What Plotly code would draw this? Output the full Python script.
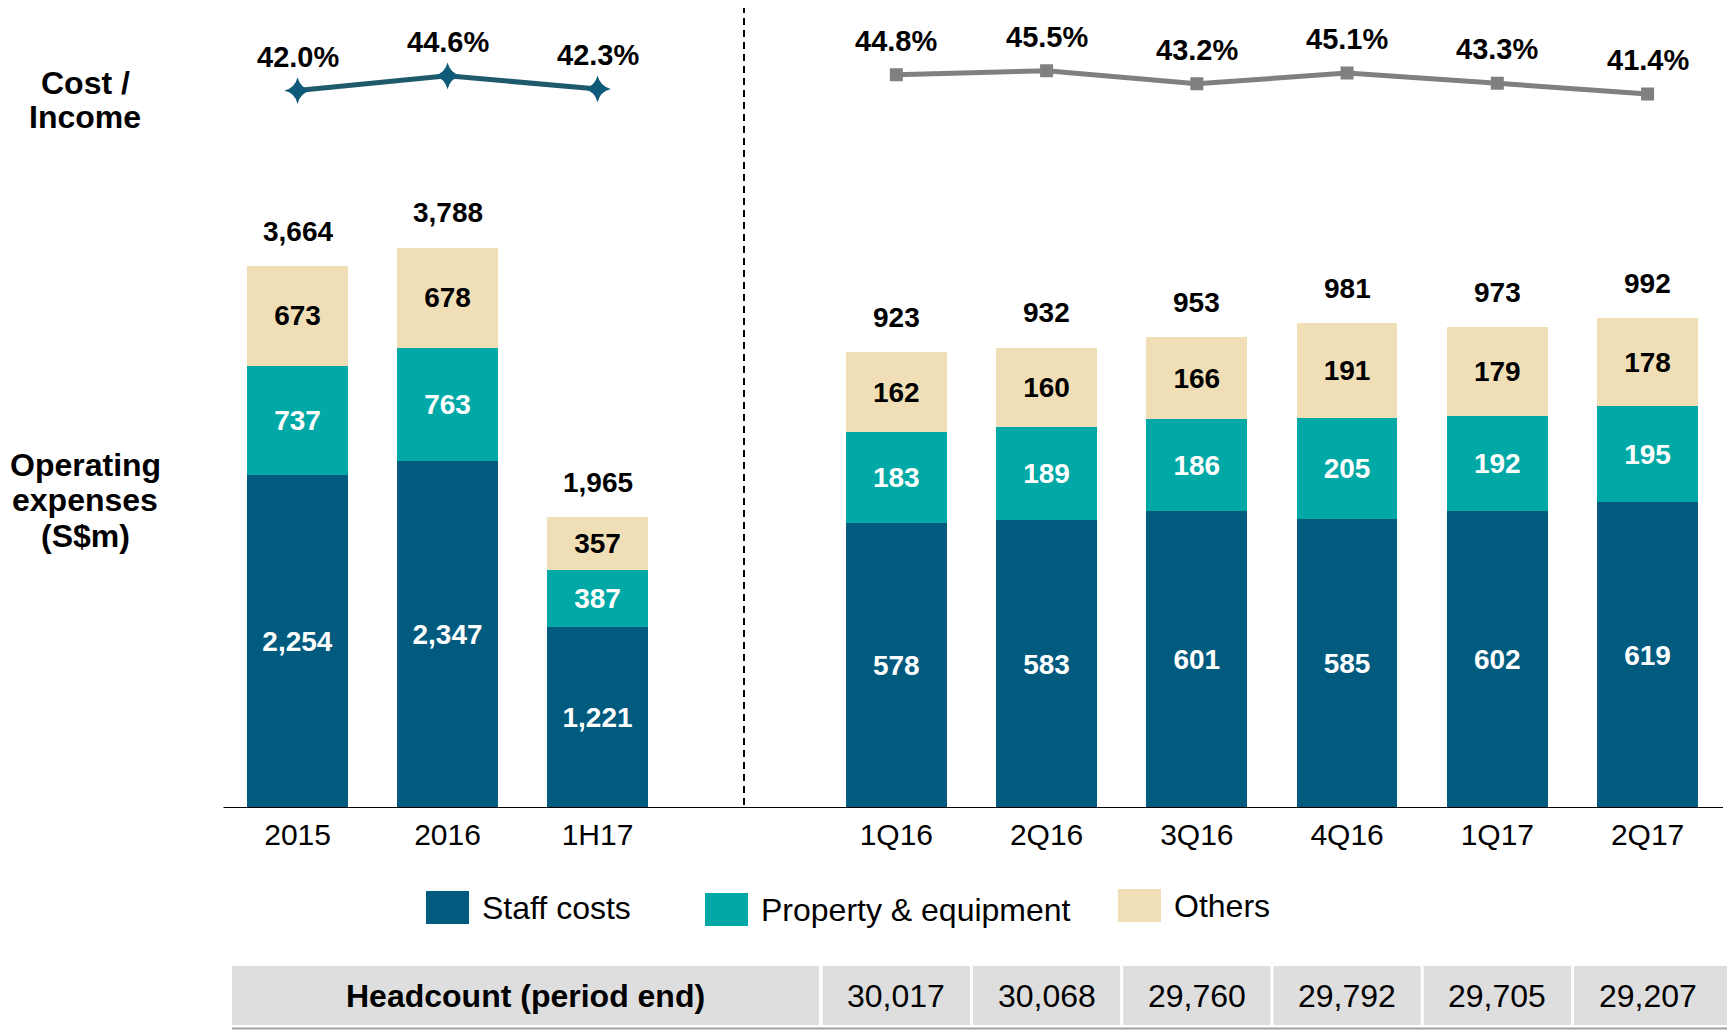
import plotly.graph_objects as go

# ---------------- data ----------------
annual_cats = ["2015", "2016", "1H17"]
annual_staff = [2254, 2347, 1221]
annual_property = [737, 763, 387]
annual_others = [673, 678, 357]
annual_total = [3664, 3788, 1965]
annual_ci = [42.0, 44.6, 42.3]

qtr_cats = ["1Q16", "2Q16", "3Q16", "4Q16", "1Q17", "2Q17"]
qtr_staff = [578, 583, 601, 585, 602, 619]
qtr_property = [183, 189, 186, 205, 192, 195]
qtr_others = [162, 160, 166, 191, 179, 178]
qtr_total = [923, 932, 953, 981, 973, 992]
qtr_ci = [44.8, 45.5, 43.2, 45.1, 43.3, 41.4]

headcount = ["30,017", "30,068", "29,760", "29,792", "29,705", "29,207"]
headcount_title = "Headcount (period end)"
series_names = ["Staff costs", "Property & equipment", "Others"]

# ---------------- styles ----------------
C_STAFF = "#005b7f"
C_PROP = "#00a9a5"
C_OTH = "#f0dfb6"
C_LINE_L = "#1e5a6c"
C_MARK_L = "#0f5a78"
C_LINE_R = "#808080"
C_CELL = "#dedede"
REG = "Liberation Sans, Arial, sans-serif"

OFF = 8  # page body margin
W, H = 1735, 1030 - OFF
def px(x):
    return (x - OFF) / W
def py(y):
    return 1 - (y - OFF) / H

fig = go.Figure()

def add_stack(cats, staff, prop, oth, xa, ya):
    for vals, col, tcol, name in [(staff, C_STAFF, "white", series_names[0]),
                                  (prop, C_PROP, "white", series_names[1]),
                                  (oth, C_OTH, "black", series_names[2])]:
        fig.add_trace(go.Bar(
            x=cats, y=vals, name=name, marker=dict(color=col, line=dict(width=0)),
            text=[f"{v:,}" for v in vals], textposition="inside",
            insidetextanchor="middle", constraintext="none",
            textfont=dict(family=REG, size=28, color=tcol, weight="bold"),
            xaxis=xa, yaxis=ya, showlegend=False, hoverinfo="skip"))

add_stack(annual_cats, annual_staff, annual_property, annual_others, "x", "y")
add_stack(qtr_cats, qtr_staff, qtr_property, qtr_others, "x2", "y2")

# cost / income lines
fig.add_trace(go.Scatter(x=annual_cats, y=annual_ci, xaxis="x", yaxis="y3",
                         mode="lines+markers", line=dict(color=C_LINE_L, width=5),
                         marker=dict(symbol="star-diamond", size=19, color=C_MARK_L),
                         showlegend=False, hoverinfo="skip"))
fig.add_trace(go.Scatter(x=qtr_cats, y=qtr_ci, xaxis="x2", yaxis="y4",
                         mode="lines+markers", line=dict(color=C_LINE_R, width=5),
                         marker=dict(symbol="square", size=13, color=C_LINE_R),
                         showlegend=False, hoverinfo="skip"))

ann = []
for cats, vals, xa, ya in [(annual_cats, annual_ci, "x", "y3"), (qtr_cats, qtr_ci, "x2", "y4")]:
    for i, v in enumerate(vals):
        ann.append(dict(x=i, y=v, xref=xa, yref=ya, text=f"{v:.1f}%", showarrow=False,
                        yshift=34, font=dict(family=REG, size=29, color="black", weight="bold")))
for cats, vals, xa, ya in [(annual_cats, annual_total, "x", "y"), (qtr_cats, qtr_total, "x2", "y2")]:
    for i, v in enumerate(vals):
        ann.append(dict(x=i, y=v, xref=xa, yref=ya, text=f"{v:,}", showarrow=False,
                        yshift=35, font=dict(family=REG, size=28, color="black", weight="bold")))

# side titles
for t, y in [("Cost /", 83), ("Income", 117)]:
    ann.append(dict(x=px(85), y=py(y), xref="paper", yref="paper", text=t, showarrow=False,
                    xanchor="center", yanchor="middle",
                    font=dict(family=REG, size=32, color="black", weight="bold")))
for t, y in [("Operating", 465), ("expenses", 500), ("(S$m)", 536)]:
    ann.append(dict(x=px(85), y=py(y), xref="paper", yref="paper", text=t, showarrow=False,
                    xanchor="center", yanchor="middle",
                    font=dict(family=REG, size=32, color="black", weight="bold")))

shapes = []
# baseline
shapes.append(dict(type="line", xref="paper", yref="y", x0=px(223.5), x1=px(1723), y0=0, y1=0,
                   line=dict(color="black", width=2)))
# divider
shapes.append(dict(type="line", xref="paper", yref="paper", x0=px(744), x1=px(744), y0=py(6), y1=py(808),
                   line=dict(color="black", width=2, dash="7px,5px")))

# legend
leg = [(series_names[0], C_STAFF, 426, 891), (series_names[1], C_PROP, 705, 893), (series_names[2], C_OTH, 1118, 889)]
for name, col, x0, y0 in leg:
    shapes.append(dict(type="rect", xref="paper", yref="paper", x0=px(x0), x1=px(x0 + 43),
                       y0=py(y0), y1=py(y0 + 33), fillcolor=col, line=dict(width=0)))
    ann.append(dict(x=px(x0 + 54), y=py(y0 + 17), xref="paper", yref="paper", text=name,
                    showarrow=False, xanchor="left", yanchor="middle",
                    font=dict(family=REG, size=32, color="black")))

# headcount table
CELL_TOP, CELL_BOT = 966, 1025
shapes.append(dict(type="rect", xref="paper", yref="paper", x0=px(232), x1=px(819),
                   y0=py(CELL_TOP), y1=py(CELL_BOT), fillcolor=C_CELL, line=dict(width=0)))
ann.append(dict(x=px(525.5), y=py(996), xref="paper", yref="paper", text=headcount_title,
                showarrow=False, xanchor="center", yanchor="middle",
                font=dict(family=REG, size=32, color="black", weight="bold")))

# right axis: extend domain to the page edge, keeping the same category spacing
STEP = (1722.7 - 821.2) / len(qtr_cats)
x2_hi = len(qtr_cats) - 0.5 + (1743 - 1722.7) / STEP

for i, v in enumerate(headcount):
    x1 = i + 0.49 if i < len(headcount) - 1 else x2_hi
    shapes.append(dict(type="rect", xref="x2", yref="paper", x0=i - 0.49, x1=x1,
                       y0=py(CELL_TOP), y1=py(CELL_BOT), fillcolor=C_CELL, line=dict(width=0)))
    ann.append(dict(x=i, y=py(996), xref="x2", yref="paper", text=v,
                    showarrow=False, xanchor="center", yanchor="middle",
                    font=dict(family=REG, size=32, color="black")))
shapes.append(dict(type="line", xref="paper", yref="paper", x0=px(232), x1=1, y0=py(1028.5), y1=py(1028.5),
                   line=dict(color="#a0a0a0", width=2)))

YDOM = [py(808), py(200)]
Y3DOM = [py(140), py(40)]
tickfont = dict(family=REG, size=30, color="black")
fig.update_layout(
    width=W, height=H, margin=dict(l=0, r=0, t=0, b=0),
    paper_bgcolor="white", plot_bgcolor="rgba(0,0,0,0)",
    barmode="stack", bargap=0.33,
    xaxis=dict(type="category", categoryorder="array", categoryarray=annual_cats,
               range=[-0.5, len(annual_cats) - 0.5], autorange=False,
               domain=[px(222.6), px(672.5)], anchor="y", showgrid=False, zeroline=False,
               showline=False, ticks="", tickfont=tickfont, ticklabelstandoff=6, fixedrange=True),
    xaxis2=dict(type="category", categoryorder="array", categoryarray=qtr_cats,
                range=[-0.5, x2_hi], autorange=False,
                domain=[px(821.2), 1.0], anchor="y2", showgrid=False, zeroline=False,
                showline=False, ticks="", tickfont=tickfont, ticklabelstandoff=6, fixedrange=True),
    yaxis=dict(domain=YDOM, range=[0, 4111], visible=False, anchor="x"),
    yaxis2=dict(domain=YDOM, range=[0, 1231], visible=False, anchor="x2"),
    yaxis3=dict(domain=Y3DOM, range=[33.27, 50.94], visible=False, anchor="x"),
    yaxis4=dict(domain=Y3DOM, range=[33.27, 50.94], visible=False, anchor="x2"),
    annotations=ann, shapes=shapes, showlegend=False,
)
fig.write_html("out.html")
